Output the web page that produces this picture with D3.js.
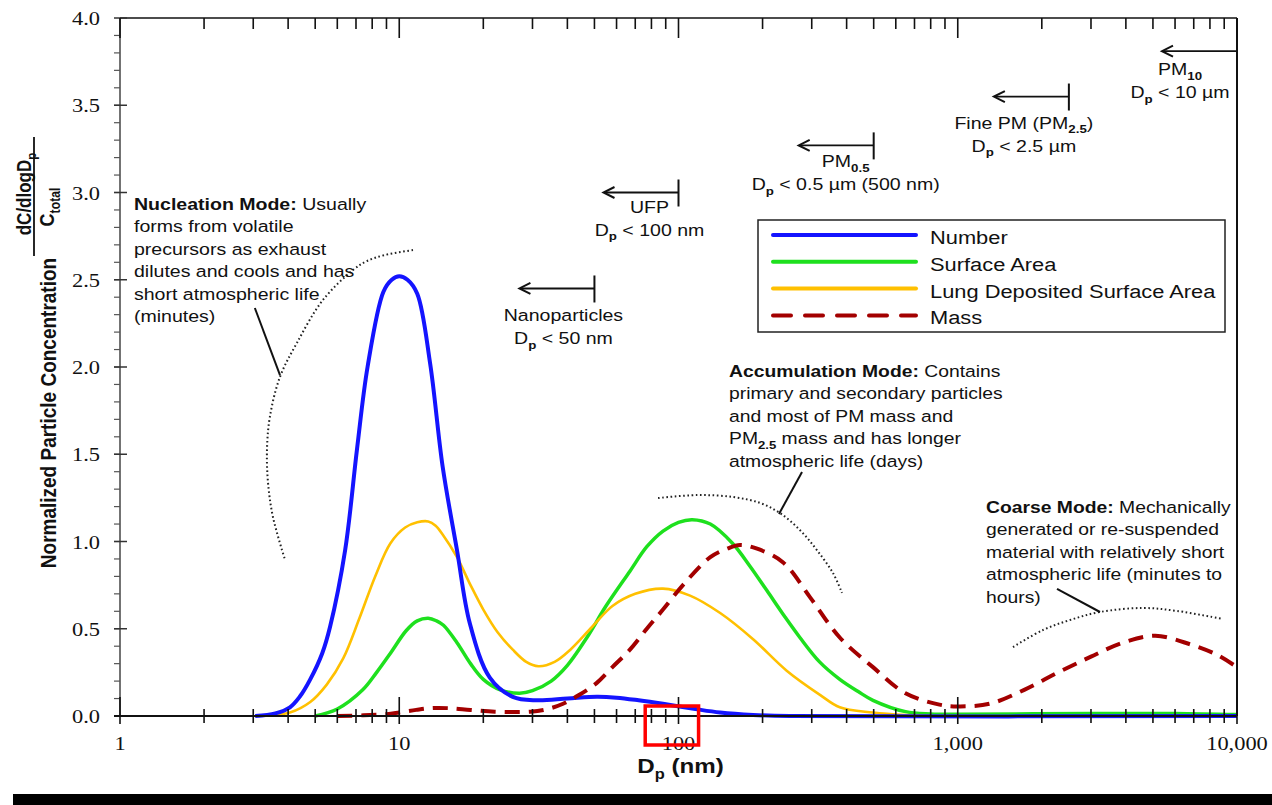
<!DOCTYPE html>
<html>
<head>
<meta charset="utf-8">
<script src="https://cdn.jsdelivr.net/npm/d3@7"></script>
<style>
  body { margin: 0; background: #fff; }
  svg { display: block; font-family: "Liberation Sans", Arial, sans-serif; }
  text { fill: #111; }
</style>
</head>
<body>
<svg id="chart" width="1272" height="805"></svg>
<script>
// ---- values: [Dp (nm), normalized concentration] ----
var numberCurve = [[3.05,0],[3.6,0.015],[4.06,0.05],[4.4,0.11],[4.8,0.21],[5.3,0.36],[5.65,0.51],[6.4,0.95],[7.06,1.53],[7.7,2.0],[8.77,2.43],[9.4,2.5],[10,2.52],[10.7,2.5],[11.6,2.42],[12.9,2.02],[14.3,1.43],[16.1,0.95],[17.9,0.53],[21.1,0.22],[25.5,0.11],[31,0.09],[40,0.1],[51,0.11],[60,0.105],[72,0.09],[88,0.07],[115,0.04],[141,0.02],[185,0.006],[250,0],[10000,0]];
var surfaceCurve = [[5,0],[6,0.04],[7.4,0.15],[8.3,0.25],[9.3,0.36],[10.6,0.49],[11.6,0.545],[12.7,0.56],[13.6,0.545],[14.4,0.52],[16.1,0.42],[18,0.3],[20,0.21],[23,0.15],[27,0.13],[30,0.145],[35,0.2],[40,0.29],[47,0.45],[55,0.63],[67,0.83],[77,0.97],[88,1.06],[100,1.11],[112,1.125],[130,1.1],[156,0.99],[180,0.86],[207,0.72],[240,0.57],[272,0.45],[320,0.31],[378,0.21],[440,0.14],[497,0.09],[650,0.025],[800,0.012],[1000,0.01],[3000,0.015],[6000,0.015],[10000,0.008]];
var lungCurve = [[3.05,0],[4.06,0.02],[4.8,0.08],[5.5,0.18],[6.3,0.33],[7.2,0.56],[8.2,0.8],[9.3,0.99],[10.5,1.08],[11.6,1.11],[12.7,1.115],[13.5,1.09],[14.3,1.04],[16.1,0.91],[18,0.75],[20,0.61],[22.5,0.48],[25.5,0.38],[28.5,0.31],[31.5,0.285],[36,0.31],[41,0.38],[49,0.51],[58,0.63],[70,0.7],[88,0.73],[110,0.69],[141,0.59],[185,0.44],[244,0.26],[322,0.12],[378,0.05],[497,0.02],[650,0.005],[800,0],[10000,0]];
var massCurve = [[6,0],[9,0.01],[10,0.02],[11.5,0.035],[13,0.045],[15,0.045],[18,0.035],[22,0.025],[29.5,0.025],[34,0.04],[38.6,0.07],[44,0.12],[51,0.19],[58,0.28],[67,0.38],[77,0.5],[88,0.61],[105,0.76],[130,0.91],[150,0.96],[166,0.98],[190,0.96],[237,0.88],[296,0.68],[378,0.45],[497,0.28],[650,0.13],[860,0.065],[1000,0.055],[1300,0.07],[1730,0.15],[2290,0.25],[3000,0.34],[3900,0.42],[5100,0.46],[6820,0.41],[8500,0.35],[10000,0.28]];

var seriesNames = ["Number", "Surface Area", "Lung Deposited Surface Area", "Mass"];

var yMajor = [0, 0.5, 1, 1.5, 2, 2.5, 3, 3.5, 4];
var xMajor = [1, 10, 100, 1000, 10000];
var xLabels = ["1", "10", "100", "1,000", "10,000"];

// size-class cut points
var rangeNames = ["Nanoparticles", "UFP", "PM_{0.5}", "Fine PM (PM_{2.5})", "PM_{10}"];
var rangeLimits = ["D_{p} < 50 nm", "D_{p} < 100 nm", "D_{p} < 0.5 µm (500 nm)", "D_{p} < 2.5 µm", "D_{p} < 10 µm"];
var rangeCuts = [50, 100, 500, 2500, 10000];
var rangeLevels = [2.45, 3.0, 3.27, 3.55, 3.81];

// mode annotations
var nucleationText = ["*Nucleation Mode:* Usually", "forms from volatile", "precursors as exhaust", "dilutes and cools and has", "short atmospheric life", "(minutes)"];
var accumulationText = ["*Accumulation Mode:* Contains", "primary and secondary particles", "and most of PM mass and", "PM_{2.5} mass and has longer", "atmospheric life (days)"];
var coarseText = ["*Coarse Mode:* Mechanically", "generated or re-suspended", "material with relatively short", "atmospheric life (minutes to", "hours)"];

var nucleationArc = [[11.2,2.67],[8.89,2.642],[7.66,2.607],[6.83,2.556],[5.33,2.384],[4.30,2.138],[3.74,1.943],[3.44,1.713],[3.36,1.524],[3.39,1.335],[3.53,1.14],[3.9,0.894]];
var nucleationLeader = [[3.04,2.338],[3.74,1.954]];
var accumulationArc = [[84.5,1.249],[116.5,1.266],[156.8,1.255],[195.8,1.221],[231,1.163],[272,1.066],[313,0.951],[357.5,0.819],[385,0.705]];
var accumulationLeader = [[276.9,1.398],[229,1.158]];
var coarseArc = [[1577,0.395],[2020,0.493],[2523,0.55],[3231,0.596],[4607,0.619],[6096,0.602],[8912,0.556]];
var coarseLeader = [[2267,0.728],[3231,0.596]];

// ---- drawing ----
var SX = 1.15;  // source picture is a bit wider than tall
var SERIF = "Liberation Serif, Times New Roman, Times, Nimbus Roman, DejaVu Serif, Noto Serif, FreeSerif, serif";
var svg = d3.select("#chart");
var x = d3.scaleLog().domain([1, 10000]).range([120, 1237]);
var y = d3.scaleLinear().domain([0, 4]).range([716, 18]);

function txt(g, px, py, str, o) {
  o = o || {};
  var size = o.size || 17;
  var tr = "translate(" + px + "," + py + ")" + (o.rotate ? " rotate(" + o.rotate + ") scale(1," + SX + ")" : " scale(" + SX + ",1)");
  var t = g.append("text").attr("transform", tr)
    .attr("text-anchor", o.anchor || "start")
    .attr("font-size", size)
    .attr("font-weight", o.weight || "normal");
  if (o.family) t.attr("font-family", o.family);
  var shift = 0;
  str.split(/(\*[^*]+\*|_\{[^}]+\})/).filter(function(s) { return s.length; }).forEach(function(s) {
    var sp = t.append("tspan");
    if (o.family) sp.attr("font-family", o.family);
    if (s[0] === "_" && s[1] === "{") {
      shift = size * 0.28;
      sp.text(s.slice(2, -1)).attr("font-size", size * 0.68).attr("font-weight", "bold").attr("dy", shift);
      return;
    }
    if (s[0] === "*") sp.text(s.slice(1, -1)).attr("font-weight", "bold");
    else sp.text(s);
    if (shift) { sp.attr("dy", -shift); shift = 0; }
  });
  return t;
}

var line = d3.line().x(function(d) { return x(d[0]); }).y(function(d) { return y(d[1]); }).curve(d3.curveCatmullRom.alpha(0.5));

// frame
var frame = svg.append("g");
frame.append("line").attr("x1", 120).attr("x2", 1237).attr("y1", y(4)).attr("y2", y(4)).attr("stroke", "#111").attr("stroke-width", 1.5);
frame.append("line").attr("x1", 1237).attr("x2", 1237).attr("y1", y(4)).attr("y2", y(0)).attr("stroke", "#111").attr("stroke-width", 2);
frame.append("line").attr("x1", 120).attr("x2", 120).attr("y1", y(4)).attr("y2", y(0)).attr("stroke", "#444").attr("stroke-width", 1.5);

// y ticks
var yMinor = d3.range(0, 40).map(function(i) { return i / 10; });
frame.selectAll(".ymin").data(yMinor).enter().append("line")
  .attr("x1", 114).attr("x2", 120).attr("y1", function(d) { return y(d); }).attr("y2", function(d) { return y(d); })
  .attr("stroke", "#555").attr("stroke-width", 1.2);
frame.selectAll(".ymaj").data(yMajor).enter().append("line")
  .attr("x1", 114).attr("x2", 127).attr("y1", function(d) { return y(d); }).attr("y2", function(d) { return y(d); })
  .attr("stroke", "#333").attr("stroke-width", 1.5);
yMajor.forEach(function(v) {
  txt(frame, 100, y(v) + 7, d3.format(".1f")(v), { size: 19.5, anchor: "end", family: SERIF });
});

// x ticks (bottom & top)
var xMinor = [];
[1, 10, 100, 1000].forEach(function(b) { for (var k = 2; k <= 9; k++) xMinor.push(b * k); });
frame.selectAll(".xminb").data(xMinor).enter().append("line")
  .attr("x1", function(d) { return x(d); }).attr("x2", function(d) { return x(d); }).attr("y1", 709).attr("y2", 723)
  .attr("stroke", "#111").attr("stroke-width", 1.6);
frame.selectAll(".xmajb").data(xMajor).enter().append("line")
  .attr("x1", function(d) { return x(d); }).attr("x2", function(d) { return x(d); }).attr("y1", 697).attr("y2", 724)
  .attr("stroke", "#111").attr("stroke-width", 1.6);
frame.selectAll(".xmint").data(xMinor).enter().append("line")
  .attr("x1", function(d) { return x(d); }).attr("x2", function(d) { return x(d); }).attr("y1", y(4)).attr("y2", y(4) + 11)
  .attr("stroke", "#111").attr("stroke-width", 1.6);
frame.selectAll(".xmajt").data(xMajor).enter().append("line")
  .attr("x1", function(d) { return x(d); }).attr("x2", function(d) { return x(d); }).attr("y1", y(4)).attr("y2", y(4) + 20)
  .attr("stroke", "#111").attr("stroke-width", 1.6);
xMajor.forEach(function(v, i) {
  txt(frame, x(v), 750, xLabels[i], { size: 19.5, anchor: "middle", family: SERIF });
});

// axis titles
txt(svg, x(100) + 2, 773, "D_{p} (nm)", { size: 21, anchor: "middle", weight: "bold" });
txt(svg, 56, 413, "Normalized Particle Concentration", { size: 19, anchor: "middle", weight: "bold", rotate: -90 });
txt(svg, 31, 194, "dC/dlogD_{p}", { size: 17, anchor: "middle", weight: "bold", rotate: -90 });
svg.append("line").attr("x1", 34).attr("x2", 34).attr("y1", 137).attr("y2", 256).attr("stroke", "#111").attr("stroke-width", 1.8);
txt(svg, 54, 207, "C_{total}", { size: 18, anchor: "middle", weight: "bold", rotate: -90 });

// curves
var plot = svg.append("g");
var curveStyles = [
  { data: surfaceCurve, color: "#1ee01e", width: 3.5 },
  { data: lungCurve, color: "#ffc000", width: 2.6 },
  { data: numberCurve, color: "#1414ff", width: 4 },
  { data: massCurve, color: "#a30000", width: 4, dash: "15,9" }
];
curveStyles.forEach(function(c) {
  plot.append("path").attr("d", line(c.data)).attr("fill", "none")
    .attr("stroke", c.color).attr("stroke-width", c.width)
    .attr("stroke-dasharray", c.dash || null);
});

// bottom axis line on top of curves
frame.append("line").attr("x1", 114).attr("x2", 1237).attr("y1", y(0)).attr("y2", y(0)).attr("stroke", "#111").attr("stroke-width", 2.2);
svg.node().appendChild(frame.node());

// dotted mode arcs and leaders
var ann = svg.append("g");
var arcLine = d3.line().x(function(d) { return x(d[0]); }).y(function(d) { return y(d[1]); }).curve(d3.curveCatmullRom);
[nucleationArc, accumulationArc, coarseArc].forEach(function(a) {
  ann.append("path").attr("d", arcLine(a)).attr("fill", "none").attr("stroke", "#222")
    .attr("stroke-width", 2).attr("stroke-dasharray", "1.6,2.6");
});
[nucleationLeader, accumulationLeader, coarseLeader].forEach(function(a) {
  ann.append("path").attr("d", d3.line().x(function(d) { return x(d[0]); }).y(function(d) { return y(d[1]); })(a))
    .attr("fill", "none").attr("stroke", "#111").attr("stroke-width", 2);
});

function block(lines, px, py, size) {
  lines.forEach(function(s, i) { txt(ann, px, py + i * 22.4, s, { size: size }); });
}
block(nucleationText, 134, 210, 17);
block(accumulationText, 729, 377, 16.8);
block(coarseText, 986, 513, 16.8);

// size-class arrows
var labelDx = [-31, -29, -28, -45, -57];
var nameDy = [33, 20, 22, 32, 24];
rangeCuts.forEach(function(cut, i) {
  var bx = x(cut), ay = y(rangeLevels[i]), tip = bx - 75;
  ann.append("line").attr("x1", tip + 1).attr("x2", bx).attr("y1", ay).attr("y2", ay).attr("stroke", "#111").attr("stroke-width", 1.8);
  ann.append("path").attr("d", "M" + (tip + 11) + "," + (ay - 5.5) + "L" + tip + "," + ay + "L" + (tip + 11) + "," + (ay + 5.5))
    .attr("fill", "none").attr("stroke", "#111").attr("stroke-width", 2);
  if (cut < 10000) {
    ann.append("line").attr("x1", bx).attr("x2", bx).attr("y1", ay - 13).attr("y2", ay + 14).attr("stroke", "#111").attr("stroke-width", 2);
  }
  txt(ann, bx + labelDx[i], ay + nameDy[i], rangeNames[i], { size: 17, anchor: "middle" });
  txt(ann, bx + labelDx[i], ay + nameDy[i] + 23, rangeLimits[i], { size: 17, anchor: "middle" });
});

// legend
var leg = svg.append("g");
leg.append("rect").attr("x", 758).attr("y", 220).attr("width", 467).attr("height", 112)
  .attr("fill", "#fff").attr("stroke", "#222").attr("stroke-width", 1.5);
var legStyles = [
  { color: "#1414ff", width: 4 },
  { color: "#1ee01e", width: 4 },
  { color: "#ffc000", width: 4 },
  { color: "#a30000", width: 4, dash: "18,14" }
];
seriesNames.forEach(function(n, i) {
  var ly = 235 + i * 26.8;
  leg.append("line").attr("x1", 773).attr("x2", 916).attr("y1", ly).attr("y2", ly)
    .attr("stroke", legStyles[i].color).attr("stroke-width", legStyles[i].width)
    .attr("stroke-linecap", "round").attr("stroke-dasharray", legStyles[i].dash || null);
  txt(leg, 930, ly + 9, n, { size: 19 });
});

// highlight box around the 100 nm label
svg.append("rect").attr("x", x(76)).attr("y", 706).attr("width", x(118) - x(76)).attr("height", 39)
  .attr("fill", "none").attr("stroke", "#ff0000").attr("stroke-width", 3.5);

// bottom black band
svg.append("rect").attr("x", 13).attr("y", 794).attr("width", 1259).attr("height", 11).attr("fill", "#000");
</script>
</body>
</html>
